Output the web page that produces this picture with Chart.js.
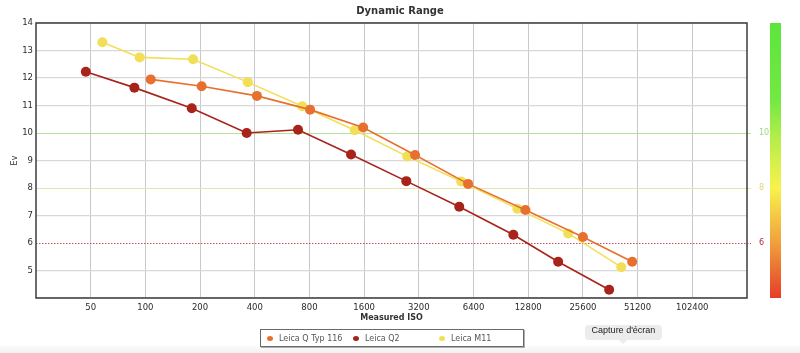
<!DOCTYPE html>
<html>
<head>
<meta charset="utf-8">
<script src="https://cdn.jsdelivr.net/npm/chart.js@4/dist/chart.umd.min.js"></script>
<style>
    body { margin: 0; background: #fff; overflow: hidden; }
    #wrap { position: relative; width: 800px; height: 353px; }
    #shade { position: absolute; left: 0; top: 346px; width: 800px; height: 7px; background: linear-gradient(#fbfbfb, #f1f1f1); }
    #legend {
        position: absolute; left: 260px; top: 329px; width: 262px; height: 16px;
        border: 1px solid #6a6a6a; box-shadow: 1px 1px 0 #b0b0b0; background: #fff;
        font: 8px 'DejaVu Sans', sans-serif; color: #555; display: flex; align-items: center;
    }
    #legend span.item { width: 86px; padding-left: 6px; box-sizing: border-box; white-space: nowrap; }
    #legend i { display: inline-block; width: 6px; height: 5px; border-radius: 50%; margin-right: 6px; vertical-align: 0; }
    #tip {
        position: absolute; left: 585px; top: 325px; width: 77px; height: 15px; line-height: 16px;
        background: #ececec; border-radius: 4px; text-align: center;
        font: 9px 'Liberation Sans', Arial, sans-serif; color: #222;
    }
    #tip:after {
        content: ''; position: absolute; left: 34px; top: 15px;
        border: 4px solid transparent; border-top-color: #ececec;
    }
</style>
</head>
<body>
<div id="wrap">
    <canvas id="dr" width="800" height="353"></canvas>
    <div id="shade"></div>
    <div id="legend"></div>
    <div id="tip">Capture d'écran</div>
</div>
<script>
// ── Data (measured ISO / Ev) ──────────────────────────────────────────────────

const ISO_TICKS = [50, 100, 200, 400, 800, 1600, 3200, 6400, 12800, 25600, 51200, 102400];

const isoQ116 = [107, 204, 411, 806, 1580, 3050, 5970, 12350, 25600, 47800];
const evQ116  = [11.95, 11.7, 11.35, 10.85, 10.2, 9.2, 8.15, 7.2, 6.22, 5.32];

const isoQ2 = [47, 87, 180, 361, 692, 1355, 2730, 5340, 10600, 18700, 35700];
const evQ2  = [12.23, 11.65, 10.9, 10.0, 10.12, 9.22, 8.25, 7.32, 6.3, 5.32, 4.3];

const isoM11 = [58, 93, 183, 366, 730, 1420, 2760, 5470, 11150, 21250, 41600];
const evM11  = [13.3, 12.75, 12.68, 11.85, 10.97, 10.1, 9.15, 8.24, 7.25, 6.35, 5.12];

const SERIES = [
    { label: 'Leica Q Typ 116', iso: isoQ116, ev: evQ116, color: '#e8702f' },
    { label: 'Leica Q2',        iso: isoQ2,   ev: evQ2,   color: '#a8231a' },
    { label: 'Leica M11',       iso: isoM11,  ev: evM11,  color: '#f2df58' }
];

// reference lines on the right axis
const REF_LINES = [
    { ev: 10, color: '#b4e29c', label: '#9fd985', dash: [] },
    { ev: 8,  color: '#e2e6aa', label: '#e6d27e', dash: [] },
    { ev: 6,  color: '#c8505e', label: '#a83040', dash: [1.5, 1.5] }
];

const FONT = "'DejaVu Sans', Verdana, sans-serif";

// ── Plugins ───────────────────────────────────────────────────────────────────

const frame = {
    id: 'frame',
    beforeDatasetsDraw(chart) {
        const { ctx, chartArea: a, scales: { y } } = chart;
        ctx.save();
        REF_LINES.forEach(r => {
            const py = Math.round(y.getPixelForValue(r.ev)) + 0.5;
            ctx.strokeStyle = r.color;
            ctx.lineWidth = 1;
            ctx.setLineDash(r.dash);
            ctx.beginPath();
            ctx.moveTo(a.left, py);
            ctx.lineTo(a.right + 4, py);
            ctx.stroke();
        });
        ctx.setLineDash([]);
        ctx.strokeStyle = '#3c3c3c';
        ctx.lineWidth = 1.5;
        ctx.strokeRect(a.left, a.top, a.right - a.left, a.bottom - a.top);

        // colour bar
        const g = ctx.createLinearGradient(0, a.top, 0, a.bottom);
        g.addColorStop(0, '#5be63b');
        g.addColorStop(0.28, '#74e843');
        g.addColorStop(0.42, '#b4ee4a');
        g.addColorStop(0.6, '#f8f24c');
        g.addColorStop(0.8, '#f0a03c');
        g.addColorStop(1, '#e63c28');
        ctx.fillStyle = g;
        ctx.fillRect(770, a.top, 11, a.bottom - a.top);
        ctx.restore();
    }
};

// ── Chart ─────────────────────────────────────────────────────────────────────

new Chart(document.getElementById('dr'), {
    type: 'line',
    data: {
        datasets: SERIES.map(s => ({
            label: s.label,
            data: s.iso.map((v, i) => ({ x: v, y: s.ev[i] })),
            borderColor: s.color,
            backgroundColor: s.color,
            borderWidth: 1.6,
            pointRadius: 5,
            pointBorderWidth: 0,
            tension: 0
        }))
    },
    options: {
        responsive: false,
        animation: false,
        layout: { padding: { left: 0, right: 0, top: 0, bottom: 25 } },
        plugins: {
            legend: { display: false },
            tooltip: { enabled: false },
            title: {
                display: true,
                text: 'Dynamic Range',
                color: '#333',
                font: { family: FONT, size: 10, weight: 'bold', lineHeight: 1.2 },
                padding: { top: 5, bottom: 6 }
            }
        },
        scales: {
            x: {
                type: 'logarithmic',
                min: 25,
                max: 204800,
                afterBuildTicks: s => { s.ticks = ISO_TICKS.map(v => ({ value: v })); },
                afterFit: s => { s.height = 30; },
                border: { display: false },
                grid: { color: '#c8c8c8', lineWidth: 1, drawTicks: false },
                ticks: { color: '#2a2a2a', font: { family: FONT, size: 8.5 }, padding: 5, maxRotation: 0, autoSkip: false, callback: v => String(v) },
                title: { display: true, text: 'Measured ISO', color: '#333', font: { family: FONT, size: 8, weight: 'bold' }, padding: { top: 0, bottom: 5 } }
            },
            y: {
                min: 4,
                max: 14,
                afterFit: s => { s.width = 36; },
                border: { display: false },
                grid: {
                    drawTicks: false,
                    lineWidth: 1.3,
                    color: c => REF_LINES.some(r => r.ev === c.tick.value) ? 'rgba(0,0,0,0)' : '#d8d8d8'
                },
                ticks: { stepSize: 1, color: '#2a2a2a', font: { family: FONT, size: 8.5 }, padding: 3, callback: v => v === 4 ? '' : v },
                title: { display: true, text: 'Ev', color: '#333', font: { family: FONT, size: 8 }, padding: { top: 10, bottom: 0 } }
            },
            y2: {
                position: 'right',
                min: 4,
                max: 14,
                afterBuildTicks: s => { s.ticks = REF_LINES.map(r => ({ value: r.ev })); },
                afterFit: s => { s.width = 53; },
                border: { display: false },
                grid: { display: false },
                ticks: {
                    font: { family: FONT, size: 8 },
                    padding: 4,
                    color: c => (REF_LINES.find(r => r.ev === c.tick.value) || {}).label || '#333'
                }
            }
        }
    },
    plugins: [frame]
});

// ── HTML legend ───────────────────────────────────────────────────────────────

document.getElementById('legend').innerHTML = SERIES.map(s =>
    `<span class="item"><i style="background:${s.color}"></i>${s.label}</span>`).join('');
</script>
</body>
</html>
